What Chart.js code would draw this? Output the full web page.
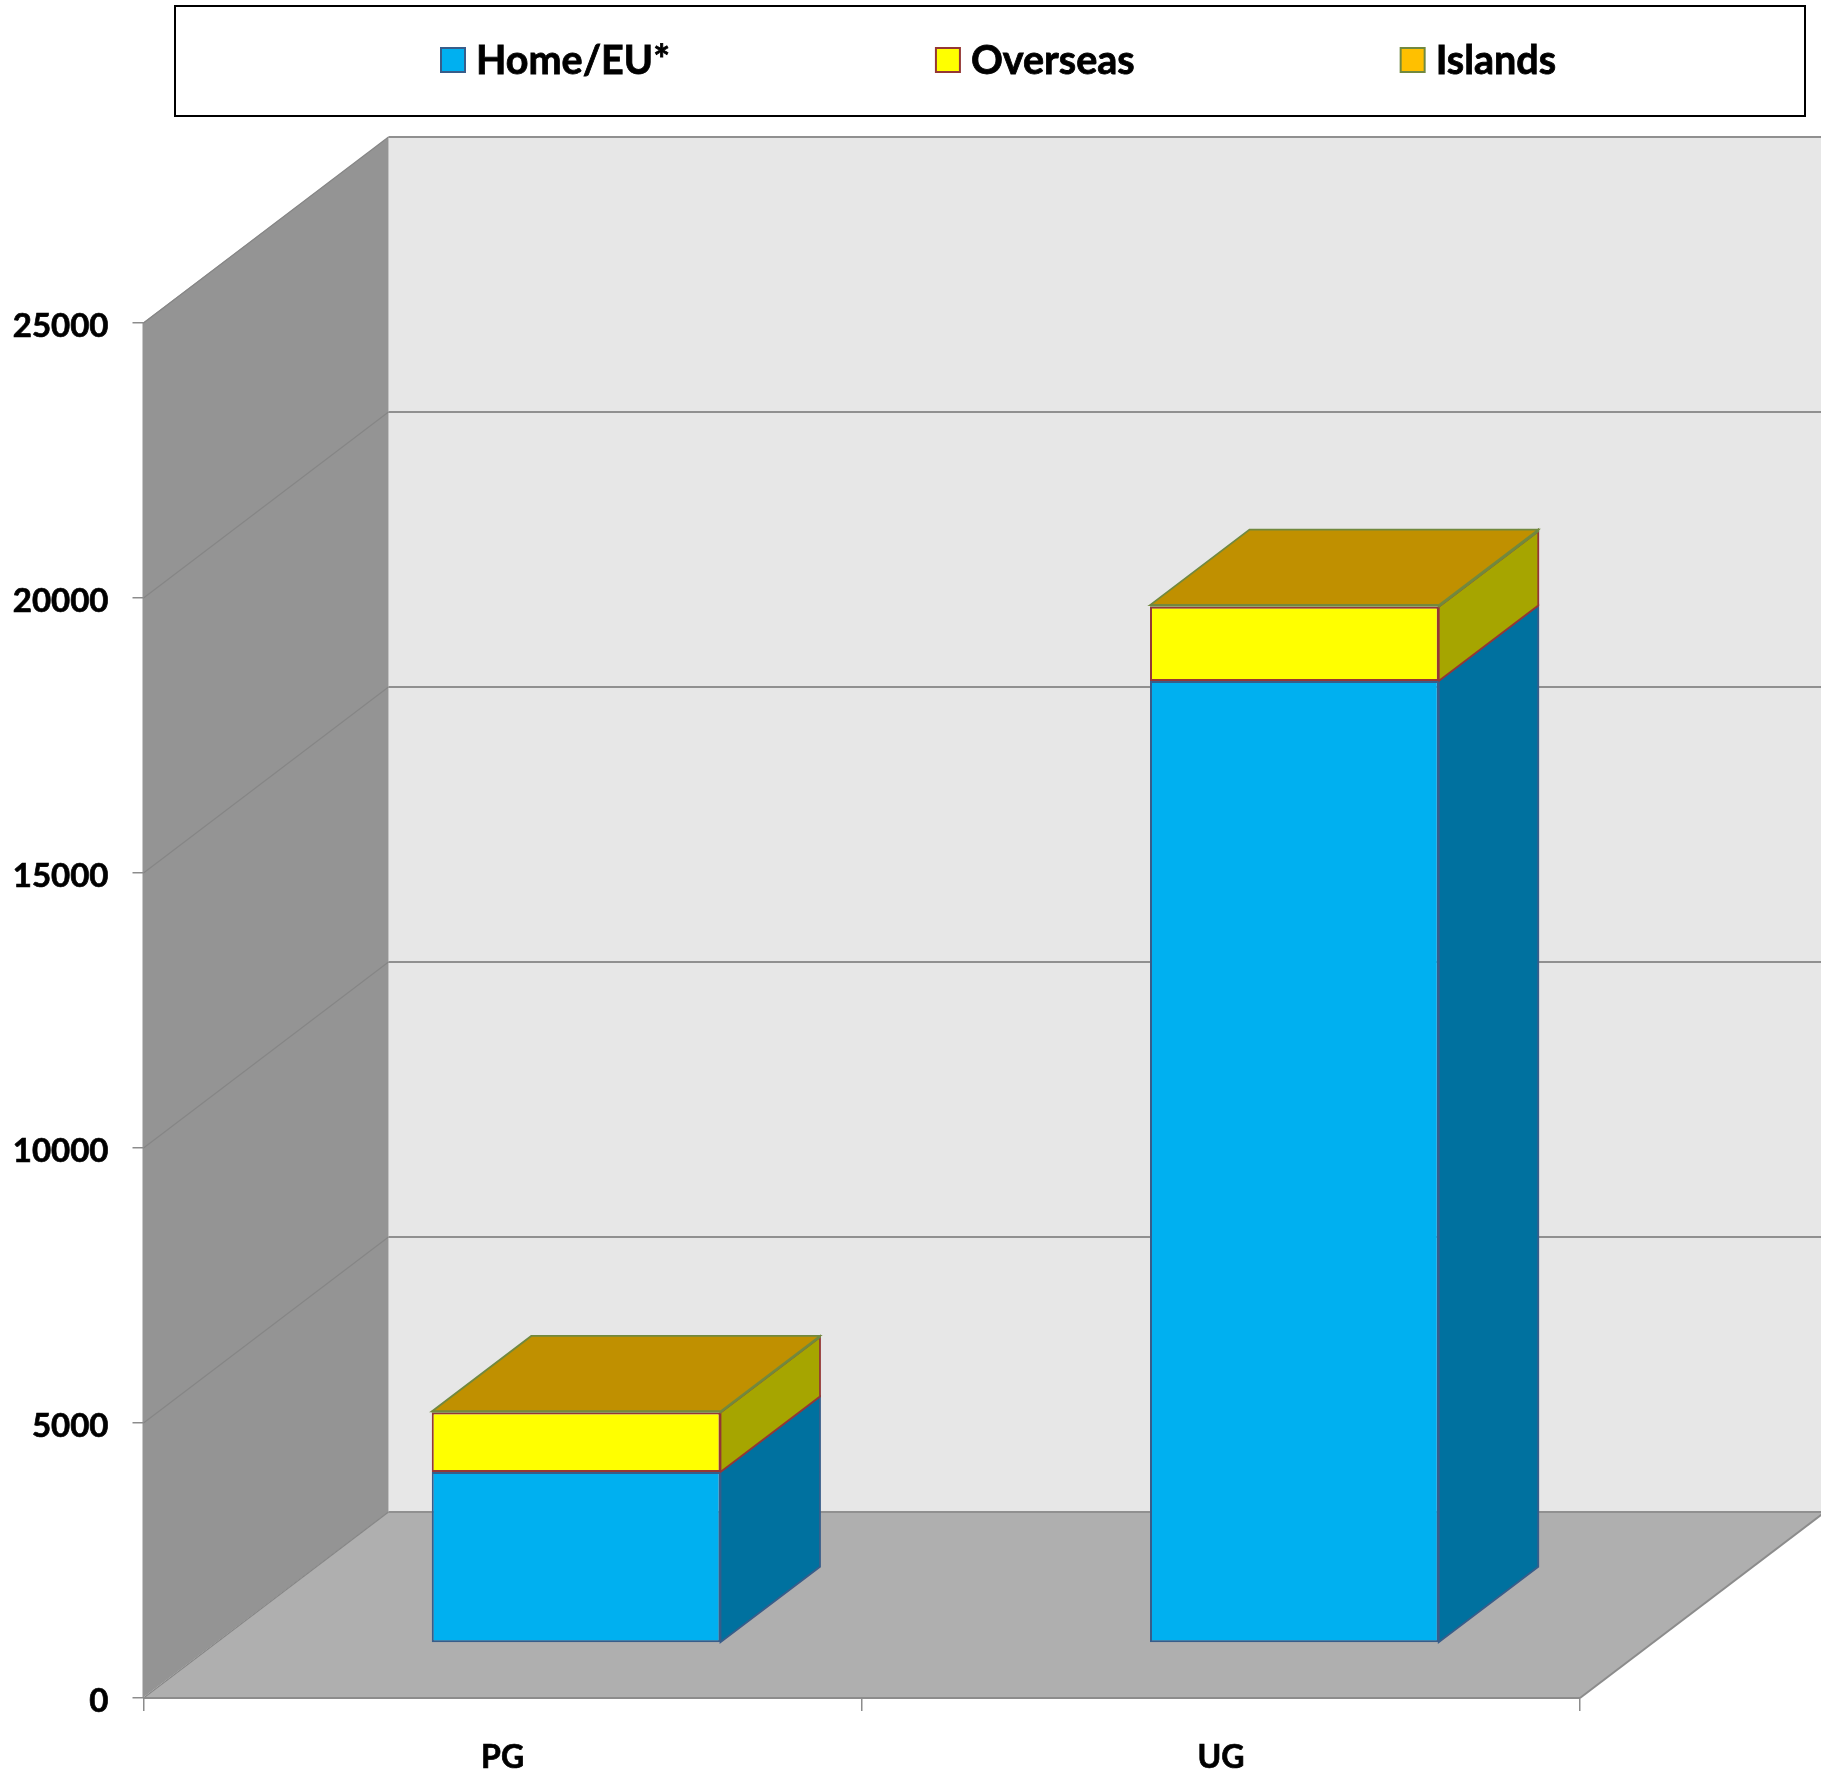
<!DOCTYPE html>
<html>
<head>
<meta charset="utf-8">
<title>Home/EU, Overseas and Islands students</title>
<script src="https://cdn.jsdelivr.net/npm/chart.js@4"></script>
<style>
  html, body { margin: 0; padding: 0; background: #fff; }
  canvas { display: block; }
</style>
</head>
<body>
<canvas id="myChart" width="1821" height="1780"></canvas>
<script>
// values
const categories = ['PG', 'UG'];
const homeEU = [3110, 17490];
const overseas = [1080, 1350];
const islands = [20, 30];
const yMax = 25000;
const yStep = 5000;

// 3D look: how far the walls and the bars are pushed back
const WALL_DX = 245, WALL_DY = 186;
const FLOOR_DX = 73.5, FLOOR_DY = 55;
const BAR_DX = 99.5, BAR_DY = 75.5;
const AXIS_GREY = '#8c8c8c';

function poly(ctx, pts, fill, stroke, width) {
    ctx.beginPath();
    pts.forEach((p, i) => i ? ctx.lineTo(p[0], p[1]) : ctx.moveTo(p[0], p[1]));
    ctx.closePath();
    if (fill) { ctx.fillStyle = fill; ctx.fill(); }
    if (stroke) { ctx.strokeStyle = stroke; ctx.lineWidth = width || 1; ctx.stroke(); }
}

function line(ctx, x1, y1, x2, y2, color, width) {
    ctx.beginPath();
    ctx.moveTo(x1, y1);
    ctx.lineTo(x2, y2);
    ctx.strokeStyle = color;
    ctx.lineWidth = width;
    ctx.stroke();
}

const walls = {
    id: 'walls',
    beforeDraw(chart) {
        const { ctx, chartArea: a, scales: { y } } = chart;
        const W = chart.width;
        const backX = a.left + WALL_DX;
        ctx.save();
        // floor (runs off the right side of the picture)
        poly(ctx, [[a.left, a.bottom], [backX, a.bottom - WALL_DY], [a.right + WALL_DX, a.bottom - WALL_DY], [a.right, a.bottom]], '#afafaf');
        line(ctx, a.right, a.bottom, a.right + WALL_DX, a.bottom - WALL_DY, AXIS_GREY, 2);
        // back wall
        poly(ctx, [[backX, a.top - WALL_DY], [W, a.top - WALL_DY], [W, a.bottom - WALL_DY], [backX, a.bottom - WALL_DY]], '#e7e7e7');
        // side wall
        poly(ctx, [[a.left - 1, a.top], [backX, a.top - WALL_DY], [backX, a.bottom - WALL_DY], [a.left - 1, a.bottom]], '#949494');
        // grid lines, going along the side wall and then the back wall
        y.ticks.forEach(t => {
            const py = y.getPixelForValue(t.value);
            line(ctx, a.left, py, backX, py - WALL_DY, '#868686', 1.2);
            line(ctx, backX, py - WALL_DY, W, py - WALL_DY, '#909090', 2.2);
        });
        ctx.restore();
    },
    // the side and top faces of the bars, and the shift of the whole stack off the front edge
    beforeDatasetsDraw(chart) {
        const { ctx } = chart;
        ctx.save();
        ctx.translate(FLOOR_DX, -FLOOR_DY);
        chart.data.datasets.forEach((ds, i) => {
            chart.getDatasetMeta(i).data.forEach(bar => {
                const r = bar.x + bar.width / 2;
                poly(ctx, [[r, bar.y], [r + BAR_DX, bar.y - BAR_DY], [r + BAR_DX, bar.base - BAR_DY], [r, bar.base]], ds.sideColor, ds.borderColor, 1.8);
            });
        });
        const last = chart.data.datasets.length - 1;
        const topDs = chart.data.datasets[last];
        chart.getDatasetMeta(last).data.forEach(bar => {
            const l = bar.x - bar.width / 2, r = bar.x + bar.width / 2;
            poly(ctx, [[l, bar.y], [l + BAR_DX, bar.y - BAR_DY], [r + BAR_DX, bar.y - BAR_DY], [r, bar.y]], topDs.topColor, topDs.borderColor, 1.8);
        });
    },
    afterDatasetsDraw(chart) {
        const { ctx } = chart;
        // the topmost series is only a sliver, so its outline goes over the front faces
        const last = chart.data.datasets.length - 1;
        const topDs = chart.data.datasets[last];
        chart.getDatasetMeta(last).data.forEach(bar => {
            line(ctx, bar.x - bar.width / 2, bar.y, bar.x + bar.width / 2, bar.y, topDs.borderColor, 2);
        });
        ctx.restore();
    }
};

// framed legend along the top, items spaced by a fixed gap after each label
const boxedLegend = {
    id: 'boxedLegend',
    afterDraw(chart) {
        const { ctx } = chart;
        ctx.save();
        ctx.strokeStyle = '#000';
        ctx.lineWidth = 2;
        ctx.strokeRect(175, 6, 1630, 110);
        ctx.font = 'bold 39.5px Lato, sans-serif';
        ctx.textBaseline = 'alphabetic';
        let x = 441;
        chart.data.datasets.forEach(ds => {
            ctx.fillStyle = ds.backgroundColor;
            ctx.fillRect(x, 48, 24, 24);
            ctx.strokeStyle = ds.borderColor;
            ctx.lineWidth = 2;
            ctx.strokeRect(x, 48, 24, 24);
            ctx.fillStyle = '#000';
            ctx.strokeStyle = '#000';
            ctx.lineWidth = 0.8;
            ctx.fillText(ds.label, x + 35, 74);
            ctx.strokeText(ds.label, x + 35, 74);
            x += 35 + ctx.measureText(ds.label).width + 266;
        });
        ctx.restore();
    }
};

const myChartRef = document.getElementById('myChart').getContext('2d');

new Chart(myChartRef, {
    type: 'bar',
    data: {
        labels: categories,
        datasets: [
            { label: 'Home/EU*', data: homeEU, backgroundColor: '#00b0f0', borderColor: '#385d8a', sideColor: '#00719f' },
            { label: 'Overseas', data: overseas, backgroundColor: '#ffff00', borderColor: '#953735', sideColor: '#a6a500' },
            { label: 'Islands', data: islands, backgroundColor: '#ffc000', borderColor: '#71893f', sideColor: '#a67c00', topColor: '#c09000' }
        ]
    },
    plugins: [walls, boxedLegend],
    options: {
        responsive: false,
        animation: false,
        layout: { padding: { top: 323, right: 241 } },
        datasets: {
            bar: { barPercentage: 0.402, categoryPercentage: 1, borderWidth: 2, borderSkipped: false }
        },
        plugins: {
            legend: { display: false },
            title: { display: false },
            tooltip: { enabled: false }
        },
        scales: {
            x: {
                stacked: true,
                afterFit(scale) { scale.height = 82; },
                border: { display: true, color: AXIS_GREY, width: 2 },
                grid: { drawOnChartArea: false, drawTicks: true, tickLength: 13, color: AXIS_GREY, lineWidth: 1.5 },
                ticks: { color: '#000', padding: 27, maxRotation: 0, textStrokeColor: '#000', textStrokeWidth: 0.7, font: { family: 'Lato, sans-serif', size: 32, weight: 'bold' } }
            },
            y: {
                stacked: true,
                min: 0,
                max: yMax,
                afterFit(scale) { scale.width = 143.5; },
                border: { display: false },
                grid: { drawOnChartArea: false, drawTicks: true, tickLength: 11, color: AXIS_GREY, lineWidth: 1.5 },
                ticks: { stepSize: yStep, color: '#000', padding: 24, labelOffset: 3, textStrokeColor: '#000', textStrokeWidth: 0.7, callback: v => String(v), font: { family: 'Lato, sans-serif', size: 33, weight: 'bold' } }
            }
        }
    }
});
</script>
</body>
</html>
